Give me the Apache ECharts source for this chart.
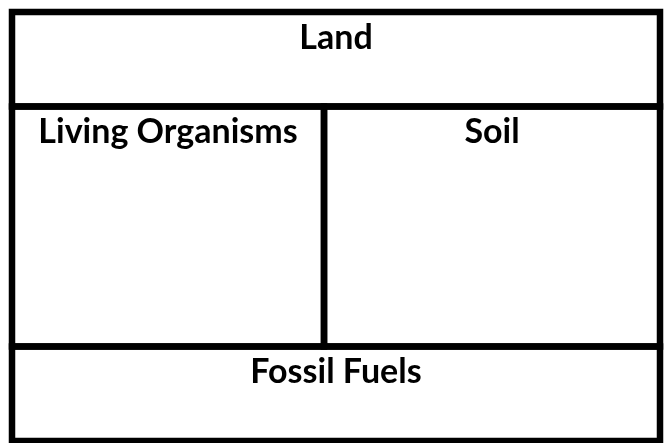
<!DOCTYPE html>
<html>
<head>
<meta charset="utf-8">
<script src="https://cdn.jsdelivr.net/npm/echarts@6/dist/echarts.min.js"></script>
<style>
  html, body { margin: 0; padding: 0; background: #fff; }
  #main { width: 668px; height: 443px; }
</style>
</head>
<body>
<div id="main"></div>
<script>
// cell labels and their extents in diagram units (x: 0..2, y: 0..4.54 top to bottom)
const labels = ['Land', 'Living Organisms', 'Soil', 'Fossil Fuels'];
const xStart = [0, 0, 0.963, 0];
const xEnd = [2, 0.963, 2, 2];
const yStart = [0, 1, 1, 3.54];
const yEnd = [1, 3.54, 3.54, 4.54];

let myChart = echarts.init(document.getElementById('main'));

let option = {
  animation: false,
  backgroundColor: '#fff',
  grid: { left: 12, right: 8, top: 12, bottom: 2 },
  xAxis: { type: 'value', min: 0, max: 2, show: false },
  yAxis: { type: 'value', min: 0, max: 4.54, inverse: true, show: false },
  series: [
    {
      type: 'custom',
      data: labels.map((l, i) => [xStart[i], xEnd[i], yStart[i], yEnd[i], l]),
      renderItem: function (params, api) {
        let p0 = api.coord([api.value(0), api.value(2)]);
        let p1 = api.coord([api.value(1), api.value(3)]);
        return {
          type: 'group',
          children: [
            {
              type: 'rect',
              shape: { x: p0[0], y: p0[1], width: p1[0] - p0[0], height: p1[1] - p0[1] },
              style: { fill: 'none', stroke: '#000', lineWidth: 6.5 }
            },
            {
              type: 'text',
              style: {
                text: api.value(4),
                x: (p0[0] + p1[0]) / 2,
                y: p0[1] + 9,
                align: 'center',
                verticalAlign: 'top',
                fill: '#000',
                font: 'bold 34px "Comic Sans MS", Lato, sans-serif'
              }
            }
          ]
        };
      }
    }
  ]
};

myChart.setOption(option);
</script>
</body>
</html>
